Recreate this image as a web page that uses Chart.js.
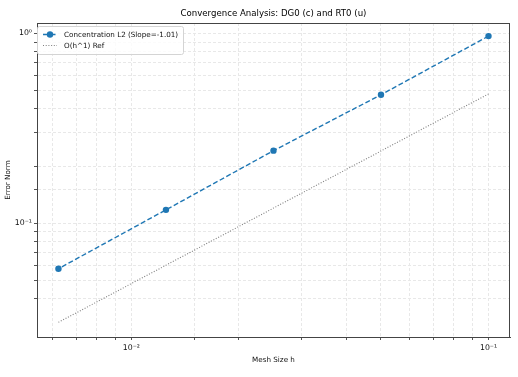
<!DOCTYPE html>
<html>
<head>
<meta charset="utf-8">
<script src="https://cdn.jsdelivr.net/npm/chart.js@4"></script>
<style>
  html, body { margin: 0; padding: 0; background: #fff; }
  #wrap { width: 518px; height: 377px; }
</style>
</head>
<body>
<div id="wrap"><canvas id="chart" width="518" height="377"></canvas></div>
<script>
// data
const meshSizes = [0.1, 0.05, 0.025, 0.0125, 0.00625];
const concentrationErr = [0.968, 0.475, 0.241, 0.1175, 0.0575];
const refErr = [0.48, 0.24, 0.12, 0.06, 0.03];
const seriesLabels = ['Concentration L2 (Slope=-1.01)', 'O(h^1) Ref'];
const chartTitle = 'Convergence Analysis: DG0 (c) and RT0 (u)';
const xTitle = 'Mesh Size h';
const yTitle = 'Error Norm';
const xRange = [0.005443, 0.11487];
const yRange = [0.0251, 1.135];

const FONT = "'DejaVu Sans', sans-serif";
const SUP = { '-': '⁻', '0': '⁰', '1': '¹', '2': '²', '3': '³', '4': '⁴' };

function powerLabel(value) {
  const l = Math.log10(value);
  const r = Math.round(l);
  if (Math.abs(l - r) > 1e-6) return '';
  return '10' + String(r).split('').map(c => SUP[c]).join('');
}

function isEdge(scale, value) {
  return Math.abs(value - scale.min) < 1e-9 || Math.abs(value - scale.max) < 1e-9;
}

function toPairs(xs, ys) {
  return xs.map((x, i) => ({ x: x, y: ys[i] }));
}

const axisCommon = (range) => ({
  type: 'logarithmic',
  min: range[0],
  max: range[1],
  grid: {
    color: (c) => (c.tick && isEdge(c.scale, c.tick.value)) ? 'rgba(0,0,0,0)' : '#e8e8e8',
    lineWidth: 1,
    tickLength: 3,
    tickColor: (c) => (c.tick && isEdge(c.scale, c.tick.value)) ? 'rgba(0,0,0,0)' : '#555',
    tickBorderDash: [],
  },
  border: { display: true, color: '#444', width: 1, dash: [3, 2] },
  ticks: {
    autoSkip: false,
    maxRotation: 0,
    color: '#111',
    font: { family: FONT, size: 7.8 },
    callback: (value) => powerLabel(value),
  },
});

const frameAndLegend = {
  id: 'frameAndLegend',
  afterDraw(chart) {
    const { ctx, chartArea: a } = chart;
    ctx.save();
    // top and right spines
    ctx.strokeStyle = '#444';
    ctx.lineWidth = 1;
    ctx.beginPath();
    ctx.moveTo(a.left, a.top + 0.5);
    ctx.lineTo(a.right, a.top + 0.5);
    ctx.moveTo(a.right - 0.5, a.top);
    ctx.lineTo(a.right - 0.5, a.bottom);
    ctx.stroke();

    // title
    ctx.fillStyle = '#000';
    ctx.font = '8.6px ' + FONT;
    ctx.textAlign = 'center';
    ctx.textBaseline = 'middle';
    ctx.fillText(chartTitle, (a.left + a.right) / 2, 14);

    // legend
    const bx = a.left + 0.5, by = 26.5, bw = 146, bh = 28;
    ctx.fillStyle = 'rgba(255,255,255,0.8)';
    ctx.strokeStyle = '#d4d4d4';
    ctx.beginPath();
    ctx.roundRect(bx, by, bw, bh, 2);
    ctx.fill();
    ctx.stroke();

    ctx.font = '7.2px ' + FONT;
    ctx.textAlign = 'left';
    chart.data.datasets.forEach((ds, i) => {
      const y = 34.5 + i * 11;
      ctx.strokeStyle = ds.borderColor;
      ctx.lineWidth = ds.borderWidth;
      ctx.setLineDash(ds.borderDash || []);
      ctx.beginPath();
      ctx.moveTo(a.left + 6, y);
      ctx.lineTo(a.left + 20, y);
      ctx.stroke();
      ctx.setLineDash([]);
      if (ds.pointRadius > 0) {
        ctx.fillStyle = ds.pointBackgroundColor;
        ctx.beginPath();
        ctx.arc(a.left + 13, y, ds.pointRadius, 0, Math.PI * 2);
        ctx.fill();
      }
      ctx.fillStyle = '#111';
      ctx.fillText(ds.label, a.left + 27, y + 0.5);
    });
    ctx.restore();
  },
};

const xAxis = axisCommon(xRange);
xAxis.position = 'bottom';
xAxis.ticks.padding = 3;
xAxis.title = { display: true, text: xTitle, color: '#111', font: { family: FONT, size: 7.2 }, padding: { top: 0, bottom: 12.5 } };
xAxis.afterFit = (scale) => { scale.height = 40; };

const yAxis = axisCommon(yRange);
yAxis.position = 'left';
yAxis.ticks.padding = 2;
yAxis.title = { display: true, text: yTitle, color: '#111', font: { family: FONT, size: 7.2 }, padding: { top: 3.7, bottom: 0 } };
yAxis.afterFit = (scale) => { scale.width = 37; };

new Chart(document.getElementById('chart').getContext('2d'), {
  type: 'scatter',
  data: {
    datasets: [
      {
        label: seriesLabels[0],
        data: toPairs(meshSizes, concentrationErr),
        showLine: true,
        borderColor: '#1f77b4',
        backgroundColor: '#1f77b4',
        borderWidth: 1.4,
        borderDash: [5, 2.5],
        pointRadius: 3.2,
        pointBackgroundColor: '#1f77b4',
        pointBorderWidth: 0,
      },
      {
        label: seriesLabels[1],
        data: toPairs(meshSizes, refErr),
        showLine: true,
        borderColor: 'rgba(0,0,0,0.5)',
        borderWidth: 1.1,
        borderDash: [1, 1.7],
        pointRadius: 0,
        pointBackgroundColor: 'rgba(0,0,0,0.5)',
      },
    ],
  },
  options: {
    responsive: false,
    animation: false,
    devicePixelRatio: 1,
    layout: { padding: { top: 23, right: 8, bottom: 0, left: 0 } },
    plugins: {
      legend: { display: false },
      title: { display: false },
      tooltip: { enabled: false },
    },
    scales: { x: xAxis, y: yAxis },
  },
  plugins: [frameAndLegend],
});
</script>
</body>
</html>
